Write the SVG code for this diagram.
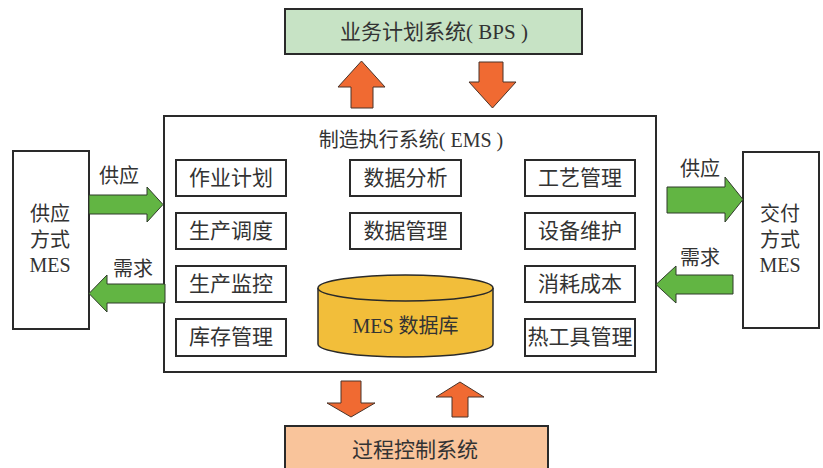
<svg xmlns="http://www.w3.org/2000/svg" width="823" height="468" viewBox="0 0 823 468">
<style>
text{font-family:"Liberation Serif","Noto Sans CJK SC",serif;fill:#333;text-anchor:middle}
.box{fill:#fff;stroke:#2a2a2a;stroke-width:2}
.sub{fill:#fff;stroke:#2a2a2a;stroke-width:2}
.t21{font-size:21px}
.t20{font-size:20px}
.g{fill:#62b543;stroke:#2f3a2a;stroke-width:1}
.o{fill:#f06a32;stroke:#4a3328;stroke-width:1}
</style>
<rect width="823" height="468" fill="#fff"/>
<g id="bps">
<rect x="285" y="9" width="297" height="45" fill="#c7e3c5" stroke="#2a2a2a" stroke-width="2"/>
<text x="434" y="39" class="t21">业务计划系统( BPS )</text>
</g>
<g id="ems">
<rect x="164" y="116" width="492" height="256" class="box"/>
<text x="411" y="147" class="t20">制造执行系统( EMS )</text>
</g>
<g id="n1"><rect x="176" y="160" width="110" height="36" class="sub"/><text x="231" y="185" class="t21">作业计划</text></g>
<g id="n2"><rect x="176" y="213" width="110" height="36" class="sub"/><text x="231" y="238" class="t21">生产调度</text></g>
<g id="n3"><rect x="176" y="266" width="110" height="36" class="sub"/><text x="231" y="291" class="t21">生产监控</text></g>
<g id="n4"><rect x="176" y="319" width="110" height="37" class="sub"/><text x="231" y="344" class="t21">库存管理</text></g>
<g id="n5"><rect x="350" y="160" width="111" height="36" class="sub"/><text x="405.5" y="185" class="t21">数据分析</text></g>
<g id="n6"><rect x="350" y="213" width="111" height="36" class="sub"/><text x="405.5" y="238" class="t21">数据管理</text></g>
<g id="n7"><rect x="525" y="160" width="110" height="36" class="sub"/><text x="580" y="185" class="t21">工艺管理</text></g>
<g id="n8"><rect x="525" y="213" width="110" height="36" class="sub"/><text x="580" y="238" class="t21">设备维护</text></g>
<g id="n9"><rect x="525" y="266" width="110" height="36" class="sub"/><text x="580" y="291" class="t21">消耗成本</text></g>
<g id="n10"><rect x="525" y="319" width="110" height="37" class="sub"/><text x="580" y="344" class="t21">热工具管理</text></g>
<g id="db">
<path d="M318,288 L318,344 A87.5,13 0 0 0 493,344 L493,288" fill="#f2be3a" stroke="#2a2a2a" stroke-width="1.5"/>
<ellipse cx="405.5" cy="288" rx="87.5" ry="13" fill="#f2be3a" stroke="#2a2a2a" stroke-width="1.5"/>
<text x="405.5" y="333" class="t20">MES 数据库</text>
</g>
<g id="pcs">
<rect x="285" y="426" width="263" height="50" fill="#f9c49b" stroke="#2a2a2a" stroke-width="2"/>
<text x="415" y="457" class="t21">过程控制系统</text>
</g>
<g id="supply">
<rect x="13" y="151" width="76" height="178" class="box"/>
<text x="50" y="221" class="t20">供应</text>
<text x="50" y="247" class="t20">方式</text>
<text x="50" y="272" class="t20">MES</text>
</g>
<g id="delivery">
<rect x="743" y="152" width="76" height="176" class="box"/>
<text x="780" y="221" class="t20">交付</text>
<text x="780" y="247" class="t20">方式</text>
<text x="780" y="272" class="t20">MES</text>
</g>
<g id="connectors">
<path class="o" d="M338,87 L361.5,61 L385,87 L373,87 L373,108 L351,108 L351,87 Z"/>
<path class="o" d="M479,62 L503,62 L503,82 L516,82 L492.5,108 L469,82 L479,82 Z"/>
<path class="o" d="M341,381 L361,381 L361,403 L375,403 L351,417 L327,403 L341,403 Z"/>
<path class="o" d="M460,382 L484,397 L468,397 L468,417 L452,417 L452,397 L436,397 Z"/>
<path class="g" d="M89,195 L147,195 L147,187 L163,204.5 L147,222 L147,214 L89,214 Z"/>
<path class="g" d="M165,284 L107,284 L107,275 L89,293.5 L107,312 L107,303 L165,303 Z"/>
<path class="g" d="M667,187 L725,187 L725,177 L743,199.5 L725,222 L725,213 L667,213 Z"/>
<path class="g" d="M733,275 L676,275 L676,266 L656,284.5 L676,303 L676,294 L733,294 Z"/>
<text x="119" y="183" class="t20">供应</text>
<text x="133" y="276" class="t20">需求</text>
<text x="700" y="176" class="t20">供应</text>
<text x="700" y="265" class="t20">需求</text>
</g>
</svg>
